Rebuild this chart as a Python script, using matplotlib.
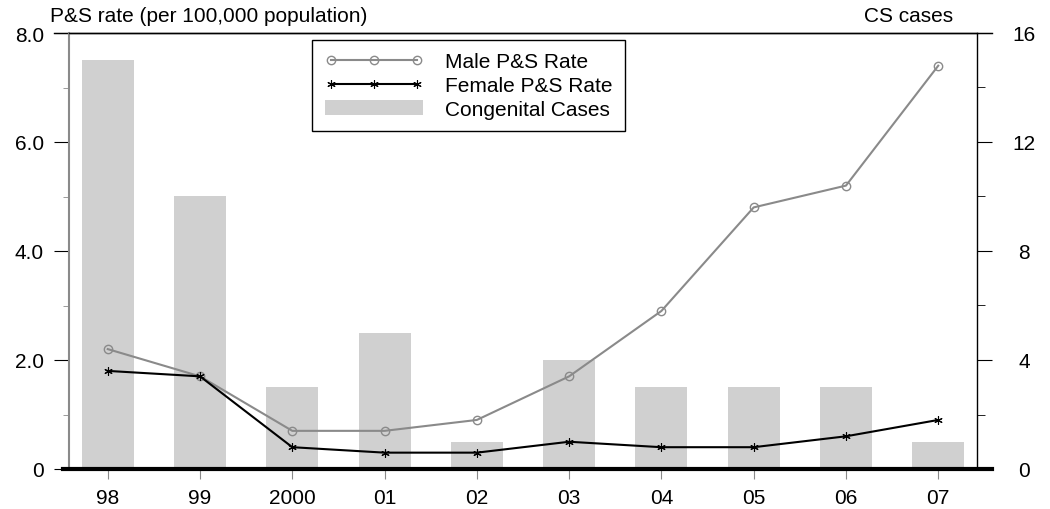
import matplotlib
matplotlib.use('Agg')
import matplotlib.pyplot as plt
from matplotlib.lines import Line2D
from matplotlib.patches import Patch
from matplotlib.ticker import MultipleLocator

plt.rcParams['font.family'] = ['Liberation Sans', 'DejaVu Sans']

years = ['98', '99', '2000', '01', '02', '03', '04', '05', '06', '07']
male_rate = [2.2, 1.7, 0.7, 0.7, 0.9, 1.7, 2.9, 4.8, 5.2, 7.4]
female_rate = [1.8, 1.7, 0.4, 0.3, 0.3, 0.5, 0.4, 0.4, 0.6, 0.9]
cs_cases = [15, 10, 3, 5, 1, 4, 3, 3, 3, 1]

GRAY = '#8a8a8a'
BAR = '#d0d0d0'
FS = 15
STAR = (6, 2, 0)

fig = plt.figure(figsize=(10.5, 5.1), dpi=100)
ax = fig.add_axes([69 / 1050, 1 - 470 / 510, 908 / 1050, 436 / 510])
ax2 = ax.twinx()
x = list(range(len(years)))

# bars on the right axis, lines on top
ax2.bar(x, cs_cases, width=0.565, color=BAR, zorder=1)
ax.set_zorder(ax2.get_zorder() + 1)
ax.patch.set_visible(False)

ax.plot(x, male_rate, color=GRAY, lw=1.5, marker='o', ms=6,
        mfc='none', mec=GRAY, mew=1.0)
ax.plot(x, female_rate, color='black', lw=1.5, marker=STAR, ms=6,
        mec='black', mew=0.8)

ax.set_xlim(-0.42, len(years) - 1 + 0.42)
ax.set_ylim(0, 8)
ax2.set_ylim(0, 16)

ax.set_xticks(x)
ax.set_xticklabels(years, fontsize=FS)
ax.tick_params(axis='x', direction='out', length=7, color=GRAY, pad=7)

ax.set_yticks([0, 2, 4, 6, 8])
ax.yaxis.set_minor_locator(MultipleLocator(1))
ax.set_yticklabels(['0', '2.0', '4.0', '6.0', '8.0'], fontsize=FS)
ax.tick_params(axis='y', which='major', direction='out', length=11, color='black', pad=7)
ax.tick_params(axis='y', which='minor', direction='out', length=4.5, color=GRAY)

ax2.yaxis.set_major_locator(MultipleLocator(4))
ax2.yaxis.set_minor_locator(MultipleLocator(2))
ax2.tick_params(axis='y', which='major', direction='out', length=11, color='black', pad=23)
ax2.tick_params(axis='y', which='minor', direction='out', length=6, color='black')
for lab in ax2.get_yticklabels():
    lab.set_fontsize(FS)
    lab.set_horizontalalignment('center')

for s in ['bottom', 'right']:
    ax.spines[s].set_visible(False)
ax.spines['left'].set_color(GRAY)
ax.spines['left'].set_linewidth(1.5)
ax.spines['top'].set_color('black')
ax.spines['top'].set_linewidth(1.0)
for s in ['bottom', 'left', 'top']:
    ax2.spines[s].set_visible(False)
ax2.spines['right'].set_color('black')
ax2.spines['right'].set_linewidth(1.0)

# top rule extends over tick lengths, thick baseline
ax.add_line(Line2D([-0.017, 1.017], [1, 1], transform=ax.transAxes,
                   color='black', lw=1.0, clip_on=False))
ax.add_line(Line2D([-0.007, 1.017], [0, 0], transform=ax.transAxes,
                   color='black', lw=3.0, clip_on=False, zorder=5))

handles = [
    Line2D([], [], color=GRAY, lw=1.5, marker='o', ms=6, mfc='none', mec=GRAY),
    Line2D([], [], color='black', lw=1.5, marker=STAR, ms=6, mew=0.8),
    Patch(facecolor=BAR, edgecolor='none'),
]
leg = ax.legend(handles, ['Male P&S Rate', 'Female P&S Rate', 'Congenital Cases'],
                loc='upper left', bbox_to_anchor=(0.268, 0.984), fontsize=FS,
                numpoints=3, handlelength=4.7, handletextpad=1.05,
                labelspacing=0.22, borderpad=0.6, borderaxespad=0,
                fancybox=False, framealpha=1, edgecolor='black')
leg.get_frame().set_linewidth(1.0)

fig.text(50 / 1050, 1 - 17 / 510, 'P&S rate (per 100,000 population)',
         fontsize=FS, va='center', ha='left')
fig.text(953 / 1050, 1 - 16 / 510, 'CS cases', fontsize=FS, va='center', ha='right')

fig.savefig('out.png', dpi=100)
